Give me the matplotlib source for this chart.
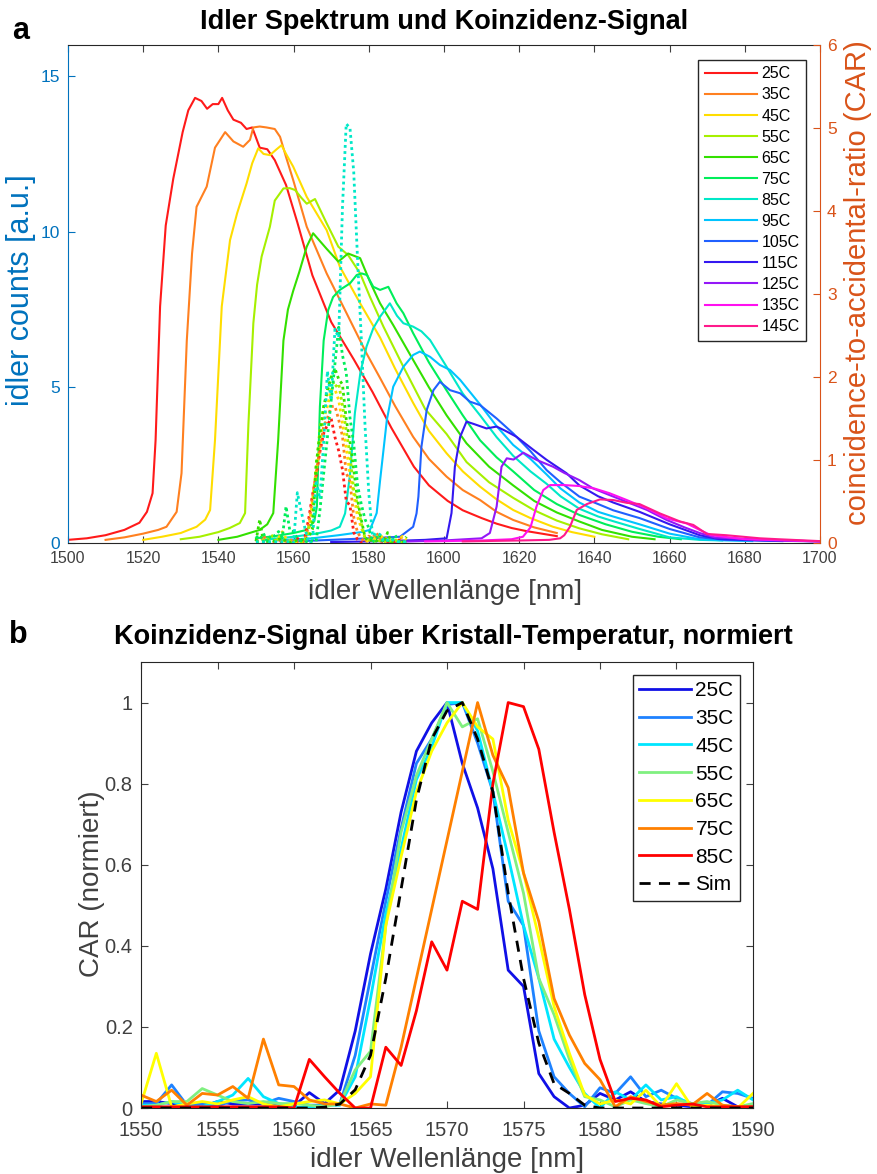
import matplotlib
matplotlib.use('Agg')
import matplotlib.pyplot as plt
from matplotlib.ticker import FuncFormatter

plt.rcParams['font.family'] = ['Liberation Sans', 'DejaVu Sans']

# ---------------- Daten Panel a: Idler-Spektren ----------------
temps_a = ['25C', '35C', '45C', '55C', '65C', '75C', '85C', '95C', '105C', '115C', '125C', '135C', '145C']
farben_a = ['#ff1a1a', '#ff8020', '#ffdd00', '#a6f000', '#33e000', '#00ee5a', '#00e8c8',
            '#00c4ff', '#2060ff', '#3418f0', '#9418f8', '#ff10f0', '#ff1a8c']

wl_25 = [1500, 1505, 1510, 1515, 1519, 1521, 1522.5, 1523.3, 1524.5, 1526, 1528, 1530.5, 1532, 1533.8, 1535.5,
         1537, 1538.5, 1540, 1541, 1542.5, 1544, 1546, 1547.5, 1549, 1551, 1553, 1555, 1558, 1561, 1565,
         1570, 1576, 1581, 1586, 1592, 1596, 1601, 1605, 1610, 1614, 1618, 1622, 1626, 1630]
cnt_25 = [0.1, 0.15, 0.25, 0.42, 0.65, 1.0, 1.6, 3.3, 7.6, 10.2, 11.7, 13.2, 13.9, 14.3, 14.2,
          13.95, 14.1, 14.1, 14.3, 13.9, 13.6, 13.5, 13.3, 13.35, 12.7, 12.65, 12.3, 11.5, 10.3, 8.6,
          7.1, 5.9, 4.85, 3.7, 2.45, 1.85, 1.35, 1.05, 0.8, 0.62, 0.48, 0.38, 0.3, 0.22]

wl_35 = [1510, 1515, 1520, 1524, 1526.2, 1528.9, 1530.2, 1531.6, 1533, 1534.2, 1536.9, 1539.1, 1541.8, 1544, 1546.6,
         1548.4, 1549.3, 1551, 1552.8, 1555, 1556.4, 1558, 1559.9, 1563.5, 1568.8, 1574.1, 1579.4, 1583, 1587,
         1591.8, 1596, 1600.7, 1605, 1609.6, 1614, 1618.4, 1624, 1630]
cnt_35 = [0.1, 0.18, 0.3, 0.42, 0.52, 1.0, 2.24, 6.5, 9.3, 10.8, 11.45, 12.7, 13.2, 12.9, 12.73,
          12.95, 13.35, 13.38, 13.35, 13.3, 13.05, 12.4, 11.66, 10.16, 8.66, 7.38, 6.09, 5.3, 4.4,
          3.41, 2.7, 2.13, 1.7, 1.38, 1.0, 0.74, 0.5, 0.32]

wl_45 = [1520, 1525, 1530, 1534.2, 1536.5, 1537.8, 1539.1, 1540.9, 1543.1, 1545, 1547.5, 1549, 1550.6, 1552,
         1553.7, 1555.5, 1556.8, 1558, 1559.9, 1563.5, 1568.8, 1572.3, 1577.7, 1583, 1587, 1591.8, 1596,
         1600.7, 1605, 1609.6, 1614, 1618.4, 1623, 1629, 1634, 1640]
cnt_45 = [0.1, 0.2, 0.32, 0.52, 0.75, 1.06, 3.3, 7.6, 9.73, 10.6, 11.55, 12.2, 12.68, 12.5,
          12.46, 12.65, 12.78, 12.5, 12.09, 11.12, 10.05, 8.88, 7.7, 6.6, 5.6, 4.5, 3.6,
          2.88, 2.3, 1.81, 1.4, 1.06, 0.8, 0.52, 0.35, 0.2]

wl_55 = [1530, 1535, 1540, 1543, 1545.7, 1547.1, 1548, 1549.3, 1550.3, 1551.5, 1553.7, 1555, 1557.3, 1559,
         1560.4, 1562, 1563.5, 1565.7, 1568.8, 1571.9, 1574.5, 1577.7, 1580.3, 1583.9, 1589.2, 1595,
         1600.7, 1606, 1612, 1618.4, 1624, 1630, 1636, 1642, 1649]
cnt_55 = [0.12, 0.2, 0.35, 0.48, 0.64, 0.96, 3.84, 7.06, 8.3, 9.2, 10.16, 11.0, 11.39, 11.4,
          11.34, 11.1, 10.9, 11.05, 10.27, 9.52, 9.25, 8.66, 7.91, 6.95, 5.66, 4.3,
          3.5, 2.6, 1.95, 1.45, 1.05, 0.72, 0.47, 0.28, 0.12]

wl_65 = [1540, 1545, 1551, 1553, 1554.6, 1555.9, 1557.3, 1558.5, 1559.9, 1561.5, 1563.5, 1565.2, 1567, 1568.8,
         1571.9, 1574.5, 1577.7, 1580.3, 1583, 1586.5, 1591.8, 1596, 1600.7, 1606, 1612, 1618.4, 1624,
         1630, 1636, 1642, 1650, 1656]
cnt_65 = [0.1, 0.2, 0.42, 0.6, 0.96, 3.3, 6.5, 7.5, 8.1, 8.7, 9.52, 9.95, 9.7, 9.45,
          9.04, 9.3, 9.15, 8.4, 7.7, 7.0, 5.88, 5.0, 4.1, 3.2, 2.45, 1.85, 1.35,
          0.98, 0.69, 0.42, 0.2, 0.12]

wl_75 = [1550, 1555, 1560, 1563.5, 1565.5, 1566.2, 1567, 1568, 1569.2, 1570.5, 1572.3, 1575, 1576.8, 1578.1,
         1579.5, 1581.2, 1583, 1585.2, 1587.4, 1589.2, 1591.8, 1596, 1600.7, 1605, 1609.6, 1614, 1618.4,
         1624, 1630, 1636, 1643, 1650, 1657, 1663]
cnt_75 = [0.15, 0.22, 0.32, 0.42, 0.7, 1.17, 4.38, 6.5, 7.48, 7.9, 8.13, 8.34, 8.61, 8.66,
          8.61, 8.23, 8.13, 8.23, 7.7, 7.38, 6.74, 5.8, 4.9, 4.1, 3.3, 2.75, 2.3,
          1.7, 1.25, 0.9, 0.6, 0.36, 0.2, 0.12]

wl_85 = [1552, 1560, 1566, 1570, 1572.3, 1573.7, 1575, 1576.3, 1577.8, 1579.4, 1581.2, 1583, 1585.6, 1587.5,
         1589.2, 1591.8, 1594, 1596.3, 1600.7, 1605, 1609.6, 1614, 1618.4, 1623, 1627.3, 1631, 1636,
         1641, 1645, 1652, 1660, 1668, 1674]
cnt_85 = [0.1, 0.2, 0.3, 0.4, 0.52, 0.95, 2.2, 4.17, 5.5, 6.31, 6.9, 7.27, 7.7, 7.3,
          7.06, 6.95, 6.8, 6.52, 5.66, 4.8, 4.1, 3.4, 2.8, 2.3, 1.9, 1.5, 1.1,
          0.85, 0.7, 0.45, 0.18, 0.1, 0.08]

wl_95 = [1555, 1565, 1572, 1578, 1580.3, 1582.1, 1583, 1584.8, 1586.5, 1589.2, 1591.8, 1593.6, 1596.3, 1598.9,
         1601.6, 1604.3, 1609.6, 1614, 1618.4, 1623, 1627.3, 1631, 1636, 1641, 1645, 1652, 1660, 1668,
         1675, 1682]
cnt_95 = [0.08, 0.15, 0.25, 0.35, 0.42, 0.96, 2.0, 3.95, 5.02, 5.66, 6.04, 6.15, 5.98, 5.72,
          5.56, 5.24, 4.45, 3.75, 3.15, 2.7, 2.2, 1.75, 1.3, 1.0, 0.85, 0.6, 0.3, 0.12,
          0.08, 0.06]

wl_105 = [1560, 1570, 1580, 1588.3, 1591.8, 1592.7, 1593.2, 1594, 1595.4, 1597.2, 1598.9, 1601.6, 1604.3,
          1606.9, 1609.6, 1614, 1618.4, 1623, 1627.3, 1631, 1636, 1641, 1645, 1652, 1660, 1668, 1675, 1690]
cnt_105 = [0.05, 0.1, 0.15, 0.2, 0.52, 0.95, 1.49, 3.09, 4.27, 4.91, 5.18, 4.91, 4.81,
           4.54, 4.43, 4.0, 3.52, 2.95, 2.34, 1.95, 1.49, 1.25, 1.05, 0.8, 0.45, 0.18, 0.1, 0.06]

wl_115 = [1570, 1585, 1595, 1600.7, 1602, 1602.9, 1604.3, 1606, 1608, 1611.3, 1614, 1616.7, 1619.3, 1623.8,
          1627.3, 1632.6, 1636, 1641, 1645, 1652, 1660, 1668, 1673, 1685, 1700]
cnt_115 = [0.03, 0.06, 0.1, 0.15, 0.96, 2.45, 3.41, 3.9, 3.82, 3.68, 3.74, 3.58, 3.41, 2.99,
           2.67, 2.24, 1.85, 1.5, 1.3, 1.0, 0.6, 0.25, 0.13, 0.08, 0.05]

wl_125 = [1585, 1600, 1610, 1612.2, 1614, 1615.3, 1616.7, 1618.5, 1621.1, 1624.6, 1629, 1632, 1636, 1639.7,
          1644, 1649, 1654, 1659.2, 1664, 1668, 1672, 1685, 1700]
cnt_125 = [0.03, 0.08, 0.15, 0.32, 1.17, 2.45, 2.72, 2.68, 2.9, 2.67, 2.45, 2.25, 2.02, 1.75,
           1.54, 1.3, 1.06, 0.74, 0.5, 0.32, 0.18, 0.1, 0.05]

wl_135 = [1595, 1610, 1618, 1621, 1623, 1624.6, 1626.4, 1628.2, 1632, 1636, 1640, 1644, 1648.6, 1654,
          1659.2, 1664.5, 1668, 1671, 1680, 1700]
cnt_135 = [0.05, 0.08, 0.12, 0.2, 0.5, 1.17, 1.7, 1.86, 1.86, 1.83, 1.75, 1.6, 1.38, 1.11,
           0.79, 0.63, 0.42, 0.25, 0.12, 0.05]

wl_145 = [1605, 1620, 1628, 1630.9, 1632, 1633.5, 1635.3, 1638, 1641.5, 1645, 1648.6, 1652, 1657.4, 1662.8,
          1666.3, 1669.9, 1675, 1684, 1689, 1700]
cnt_145 = [0.05, 0.08, 0.1, 0.15, 0.25, 0.52, 1.06, 1.25, 1.4, 1.38, 1.29, 1.25, 0.95, 0.69,
           0.58, 0.29, 0.25, 0.15, 0.12, 0.06]

spektren_wl = [wl_25, wl_35, wl_45, wl_55, wl_65, wl_75, wl_85, wl_95, wl_105, wl_115, wl_125, wl_135, wl_145]
spektren_cnt = [cnt_25, cnt_35, cnt_45, cnt_55, cnt_65, cnt_75, cnt_85, cnt_95, cnt_105, cnt_115, cnt_125,
                cnt_135, cnt_145]

# ---------------- Daten Panel b: Koinzidenz, normiert ----------------
wl_b = list(range(1550, 1591))
temps_b = ['25C', '35C', '45C', '55C', '65C', '75C', '85C']
farben_b = ['#1010e6', '#1e82ff', '#00e6ff', '#80f080', '#ffff00', '#ff8000', '#ff0000']

car_25 = [0.016, 0.016, 0.011, 0.003, 0.003, 0.016, 0.01, 0.01, 0.01, 0.005,
          0.005, 0.038, 0.011, 0.045, 0.19, 0.38, 0.54, 0.73, 0.88, 0.95,
          1.0, 0.85, 0.74, 0.59, 0.34, 0.30, 0.085, 0.028, 0.0, 0.007,
          0.036, 0.02, 0.04, 0.016, 0.01, 0.007, 0.003, 0.007, 0.024, 0.003, 0.003]
car_35 = [0.011, 0.011, 0.057, 0.007, 0.011, 0.005, 0.018, 0.02, 0.011, 0.024,
          0.016, 0.007, 0.007, 0.011, 0.13, 0.32, 0.51, 0.69, 0.85, 0.91,
          0.995, 1.0, 0.9, 0.78, 0.51, 0.45, 0.19, 0.077, 0.036, 0.003,
          0.05, 0.036, 0.077, 0.028, 0.044, 0.024, 0.011, 0.007, 0.04, 0.036, 0.024]
car_45 = [0.007, 0.007, 0.016, 0.005, 0.003, 0.016, 0.032, 0.073, 0.028, 0.011,
          0.002, 0.002, 0.007, 0.007, 0.077, 0.27, 0.48, 0.64, 0.81, 0.89,
          1.0, 1.0, 0.93, 0.78, 0.62, 0.45, 0.32, 0.17, 0.1, 0.036,
          0.0, 0.04, 0.02, 0.057, 0.02, 0.028, 0.007, 0.011, 0.02, 0.044, 0.02]
car_55 = [0.003, 0.007, 0.016, 0.016, 0.048, 0.032, 0.016, 0.011, 0.016, 0.011,
          0.011, 0.007, 0.003, 0.011, 0.094, 0.14, 0.45, 0.68, 0.82, 0.91,
          1.0, 0.94, 0.96, 0.83, 0.68, 0.53, 0.32, 0.23, 0.12, 0.028,
          0.02, 0.003, 0.02, 0.011, 0.003, 0.02, 0.011, 0.016, 0.007, 0.003, 0.011]
car_65 = [0.01, 0.135, 0.003, 0.01, 0.016, 0.01, 0.02, 0.028, 0.01, 0.003,
          0.01, 0.016, 0.02, 0.01, 0.036, 0.077, 0.45, 0.62, 0.78, 0.88,
          0.95, 1.0, 0.94, 0.91, 0.71, 0.58, 0.42, 0.25, 0.135, 0.032,
          0.01, 0.02, 0.01, 0.044, 0.003, 0.06, 0.003, 0.007, 0.003, 0.0, 0.036]
car_75 = [0.032, 0.016, 0.044, 0.007, 0.036, 0.032, 0.053, 0.024, 0.17, 0.057,
          0.053, 0.02, 0.01, 0.01, 0.0, 0.01, 0.007, 0.15, 0.32, 0.49,
          0.66, 0.83, 1.0, 0.87, 0.79, 0.58, 0.46, 0.27, 0.18, 0.11,
          0.07, 0.003, 0.028, 0.016, 0.007, 0.011, 0.007, 0.036, 0.007, 0.003, 0.003]
car_85 = [0.003, 0.003, 0.003, 0.003, 0.003, 0.003, 0.003, 0.003, 0.003, 0.003,
          0.0, 0.12, 0.077, 0.036, 0.0, 0.0, 0.15, 0.105, 0.24, 0.41,
          0.34, 0.51, 0.49, 0.8, 1.0, 0.99, 0.885, 0.68, 0.49, 0.28,
          0.12, 0.016, 0.024, 0.02, 0.003, 0.007, 0.01, 0.003, 0.003, 0.003, 0.003]
car_sim = [0.0, 0.0, 0.0, 0.0, 0.0, 0.0, 0.0, 0.0, 0.0, 0.0,
           0.0, 0.0, 0.002, 0.01, 0.045, 0.13, 0.32, 0.54, 0.76, 0.91,
           0.98, 1.0, 0.91, 0.78, 0.53, 0.32, 0.16, 0.06, 0.036, 0.007,
           0.0, 0.0, 0.0, 0.0, 0.0, 0.0, 0.0, 0.0, 0.0, 0.0, 0.0]
car_norm = [car_25, car_35, car_45, car_55, car_65, car_75, car_85]

# maximales CAR je Temperatur (rechte Achse in Panel a)
car_max = [1.5, 1.65, 1.85, 2.0, 2.1, 2.6, 5.05]

blau = '#0072BD'
orange = '#D95319'
grau = '#404040'

fig = plt.figure(figsize=(8.77, 11.74), dpi=100)

# ---------------- Panel a ----------------
ax1 = fig.add_axes([0.0775, 0.5375, 0.8575, 0.4242])
ax2 = ax1.twinx()

linien = []
for wl, cnt, farbe, t in zip(spektren_wl, spektren_cnt, farben_a, temps_a):
    l, = ax1.plot(wl, cnt, '-', color=farbe, lw=1.5, label=t)
    linien.append(l)

for i in range(len(car_norm)):
    car = [n * car_max[i] for n in car_norm[i]]
    ax2.plot(wl_b, car, linestyle=(0, (1, 1.2)), color=farben_a[i], lw=2)

ax1.set_xlim(1500, 1700)
ax1.set_ylim(0, 16)
ax2.set_ylim(0, 6)
ax1.set_xticks(range(1500, 1701, 20))
ax1.set_yticks([0, 5, 10, 15])
ax2.set_yticks(range(0, 7))

ax1.tick_params(axis='x', direction='in', top=True, length=5, pad=6, labelsize=11.5, colors=grau)
ax1.tick_params(axis='y', direction='in', length=5, pad=6, labelsize=12.5, colors=blau)
ax2.tick_params(axis='y', direction='in', length=5, pad=5, labelsize=12.5, colors=orange)

ax1.spines['left'].set_color(blau)
ax1.spines['right'].set_visible(False)
ax1.spines['top'].set_color('#262626')
ax1.spines['bottom'].set_color('#262626')
for s in ['left', 'top', 'bottom']:
    ax2.spines[s].set_visible(False)
ax2.spines['right'].set_color(orange)

ax1.set_xlabel('idler Wellenlänge [nm]', fontsize=20, color=grau)
ax1.xaxis.set_label_coords(0.501, -0.098)
ax1.xaxis.label.set_va('center')
ax1.set_ylabel('idler counts [a.u.]', fontsize=22, color=blau)
ax1.yaxis.set_label_coords(-0.063, 0.508)
ax1.yaxis.label.set_va('center')
ax2.set_ylabel('coincidence-to-accidental-ratio (CAR)', fontsize=21, color=orange)
ax2.yaxis.set_label_coords(1.0505, 0.522)
ax2.yaxis.label.set_va('center')

leg = ax2.legend(linien, temps_a, loc='upper right', bbox_to_anchor=(806 / 877, 1 - 60 / 1174),
                 bbox_transform=fig.transFigure, borderaxespad=0, fontsize=11.5, handlelength=3.3,
                 handletextpad=0.25, labelspacing=0.38, borderpad=0.4, fancybox=False,
                 framealpha=1, edgecolor='#262626')
leg.get_frame().set_linewidth(1.0)

fig.text(0.506, 1 - 22 / 1174, 'Idler Spektrum und Koinzidenz-Signal', ha='center', va='center',
         fontsize=19.5, fontweight='bold')
fig.text(0.023, 1 - 31 / 1174, 'a', ha='center', va='center', fontsize=22, fontweight='bold')

# ---------------- Panel b ----------------
ax3 = fig.add_axes([0.1608, 0.0562, 0.6978, 0.3799])
for car, farbe, t in zip(car_norm, farben_b, temps_b):
    ax3.plot(wl_b, car, '-', color=farbe, lw=2, label=t)
ax3.plot(wl_b, car_sim, '--', color='black', lw=2, dashes=(4, 3), label='Sim')

ax3.set_xlim(1550, 1590)
ax3.set_ylim(0, 1.1)
ax3.set_xticks(range(1550, 1591, 5))
ax3.set_yticks([0, 0.2, 0.4, 0.6, 0.8, 1.0])
ax3.yaxis.set_major_formatter(FuncFormatter(lambda v, p: '%g' % round(v, 1)))
ax3.tick_params(direction='in', top=True, right=True, length=5, labelsize=14.5, colors=grau)
ax3.tick_params(axis='x', pad=9)
ax3.tick_params(axis='y', pad=6)
for s in ax3.spines.values():
    s.set_color('#262626')

ax3.set_xlabel('idler Wellenlänge [nm]', fontsize=20, color=grau)
ax3.xaxis.set_label_coords(0.5, -0.117)
ax3.xaxis.label.set_va('center')
ax3.set_ylabel('CAR (normiert)', fontsize=20, color=grau)
ax3.yaxis.set_label_coords(-0.08, 0.502)
ax3.yaxis.label.set_va('center')

leg2 = ax3.legend(loc='upper right', bbox_to_anchor=(740 / 877, 1 - 675 / 1174), bbox_transform=fig.transFigure,
                  borderaxespad=0, fontsize=15, handlelength=2.5, handletextpad=0.2, labelspacing=0.42,
                  borderpad=0.3, fancybox=False, framealpha=1, edgecolor='#262626')
leg2.get_frame().set_linewidth(1.0)

fig.text(0.517, 1 - 637 / 1174, 'Koinzidenz-Signal über Kristall-Temperatur, normiert', ha='center',
         va='center', fontsize=19.5, fontweight='bold')
fig.text(0.021, 1 - 635 / 1174, 'b', ha='center', va='center', fontsize=22, fontweight='bold')

fig.savefig('out.png', dpi=100)
